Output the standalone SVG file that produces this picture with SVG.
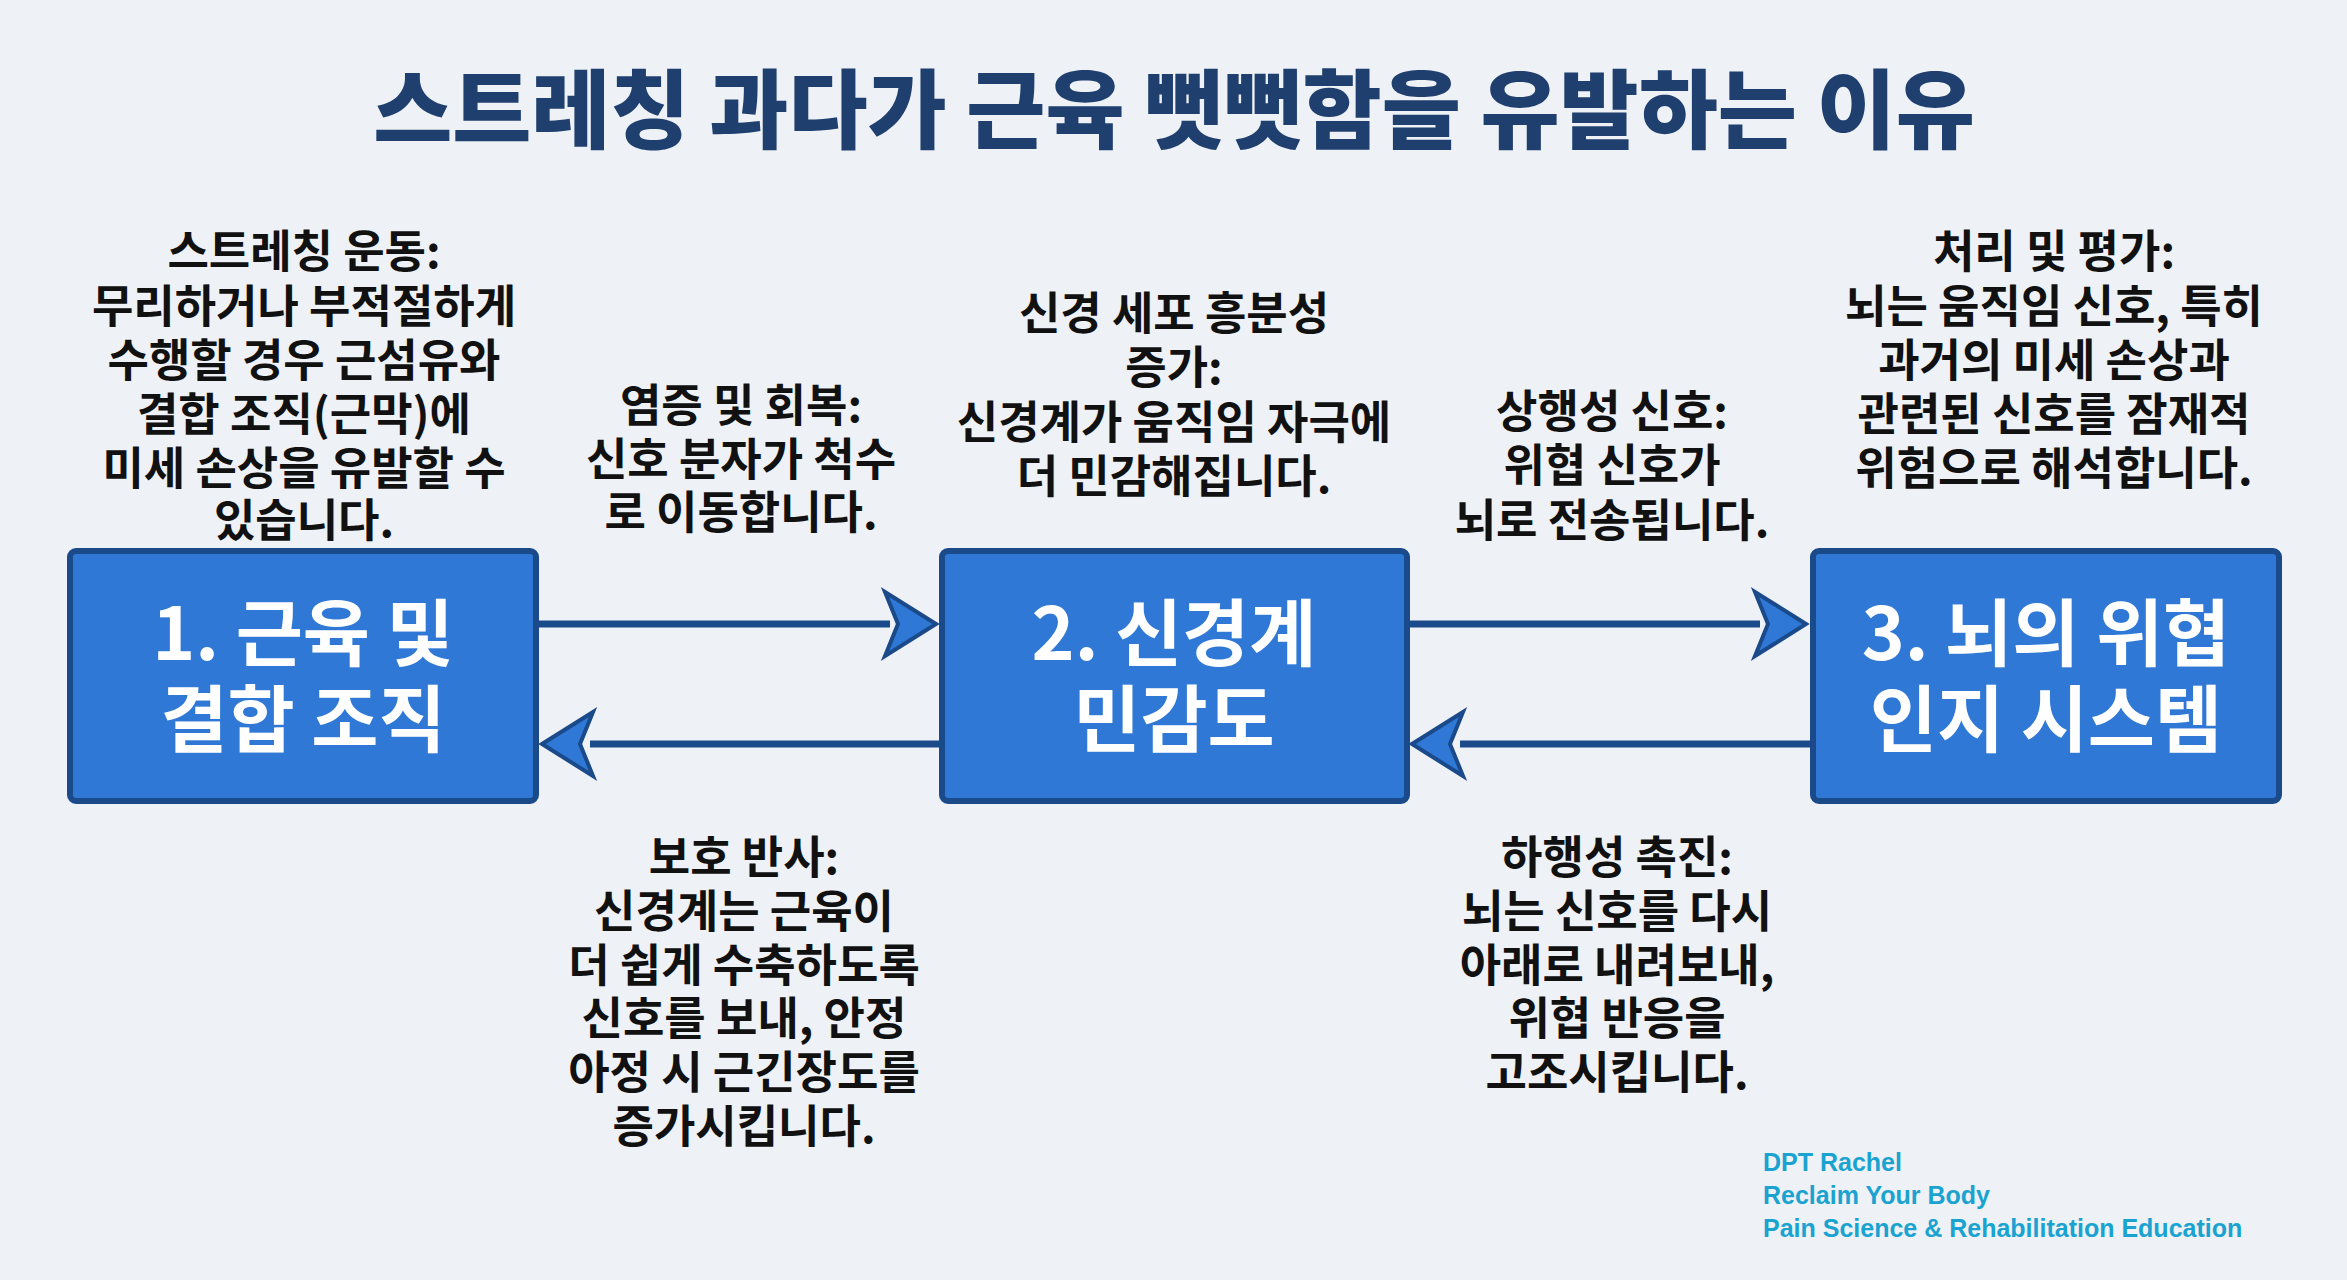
<svg xmlns="http://www.w3.org/2000/svg" width="2347" height="1280" viewBox="0 0 2347 1280">
<defs>
<style>
.t{font-family:"Noto Sans CJK KR","Noto Sans",sans-serif;font-weight:700;font-size:45px;fill:#111;text-anchor:middle}
.bx{fill:#2f78d6;stroke:#1a4a8a;stroke-width:6}
.bt{font-family:"Noto Sans CJK KR","Noto Sans",sans-serif;font-weight:700;font-size:73px;fill:#fff;text-anchor:middle}
.ln{stroke:#1a4a8a;stroke-width:7;fill:none}
.ah{fill:#2f78d6;stroke:#1a4a8a;stroke-width:4;stroke-linejoin:miter}
.ft{font-family:"Liberation Sans",Arial,sans-serif;font-weight:700;font-size:25px;fill:#1aa3d0}
</style>
</defs>
<rect width="2347" height="1280" fill="#eef1f6"/>
<text x="1174" y="142" font-family="'Noto Sans CJK KR','Noto Sans',sans-serif" font-weight="900" font-size="86" fill="#1f3f6e" text-anchor="middle">스트레칭 과다가 근육 뻣뻣함을 유발하는 이유</text>
<g id="connectors">
<line class="ln" x1="536" y1="624" x2="890" y2="624"/>
<polygon class="ah" points="936,624 885,592 898,624 885,656"/>
<line class="ln" x1="942" y1="744" x2="590" y2="744"/>
<polygon class="ah" points="542,744 593,712 580,744 593,776"/>
<line class="ln" x1="1407" y1="624" x2="1760" y2="624"/>
<polygon class="ah" points="1806,624 1755,592 1768,624 1755,656"/>
<line class="ln" x1="1813" y1="744" x2="1460" y2="744"/>
<polygon class="ah" points="1412,744 1463,712 1450,744 1463,776"/>
</g>
<g id="n1"><rect class="bx" x="70" y="551" width="466" height="250" rx="6"/>
<text class="bt" x="303" y="660">1. 근육 및</text><text class="bt" x="303" y="746">결합 조직</text></g>
<g id="n2"><rect class="bx" x="942" y="551" width="465" height="250" rx="6"/>
<text class="bt" x="1174" y="660">2. 신경계</text><text class="bt" x="1174" y="746">민감도</text></g>
<g id="n3"><rect class="bx" x="1813" y="551" width="466" height="250" rx="6"/>
<text class="bt" x="2046" y="660">3. 뇌의 위협</text><text class="bt" x="2046" y="746">인지 시스템</text></g>
<g id="l1"><text class="t" x="304" y="268">스트레칭 운동:</text><text class="t" x="304" y="323">무리하거나 부적절하게</text><text class="t" x="304" y="377">수행할 경우 근섬유와</text><text class="t" x="304" y="431">결합 조직(근막)에</text><text class="t" x="304" y="485">미세 손상을 유발할 수</text><text class="t" x="304" y="537">있습니다.</text></g>
<g id="l2"><text class="t" x="741" y="422">염증 및 회복:</text><text class="t" x="741" y="476">신호 분자가 척수</text><text class="t" x="741" y="529">로 이동합니다.</text></g>
<g id="l3"><text class="t" x="1174" y="330">신경 세포 흥분성</text><text class="t" x="1174" y="384">증가:</text><text class="t" x="1174" y="439">신경계가 움직임 자극에</text><text class="t" x="1174" y="493">더 민감해집니다.</text></g>
<g id="l4"><text class="t" x="1612" y="428">상행성 신호:</text><text class="t" x="1612" y="482">위협 신호가</text><text class="t" x="1612" y="537">뇌로 전송됩니다.</text></g>
<g id="l5"><text class="t" x="2054" y="268">처리 및 평가:</text><text class="t" x="2054" y="323">뇌는 움직임 신호, 특히</text><text class="t" x="2054" y="377">과거의 미세 손상과</text><text class="t" x="2054" y="431">관련된 신호를 잠재적</text><text class="t" x="2054" y="485">위험으로 해석합니다.</text></g>
<g id="l6"><text class="t" x="744" y="874">보호 반사:</text><text class="t" x="744" y="928">신경계는 근육이</text><text class="t" x="744" y="982">더 쉽게 수축하도록</text><text class="t" x="744" y="1035">신호를 보내, 안정</text><text class="t" x="744" y="1089">아정 시 근긴장도를</text><text class="t" x="744" y="1143">증가시킵니다.</text></g>
<g id="l7"><text class="t" x="1617" y="874">하행성 촉진:</text><text class="t" x="1617" y="928">뇌는 신호를 다시</text><text class="t" x="1617" y="982">아래로 내려보내,</text><text class="t" x="1617" y="1035">위협 반응을</text><text class="t" x="1617" y="1089">고조시킵니다.</text></g>
<g id="footer"><text class="ft" x="1763" y="1171">DPT Rachel</text><text class="ft" x="1763" y="1204">Reclaim Your Body</text><text class="ft" x="1763" y="1237">Pain Science &amp; Rehabilitation Education</text></g>
</svg>
